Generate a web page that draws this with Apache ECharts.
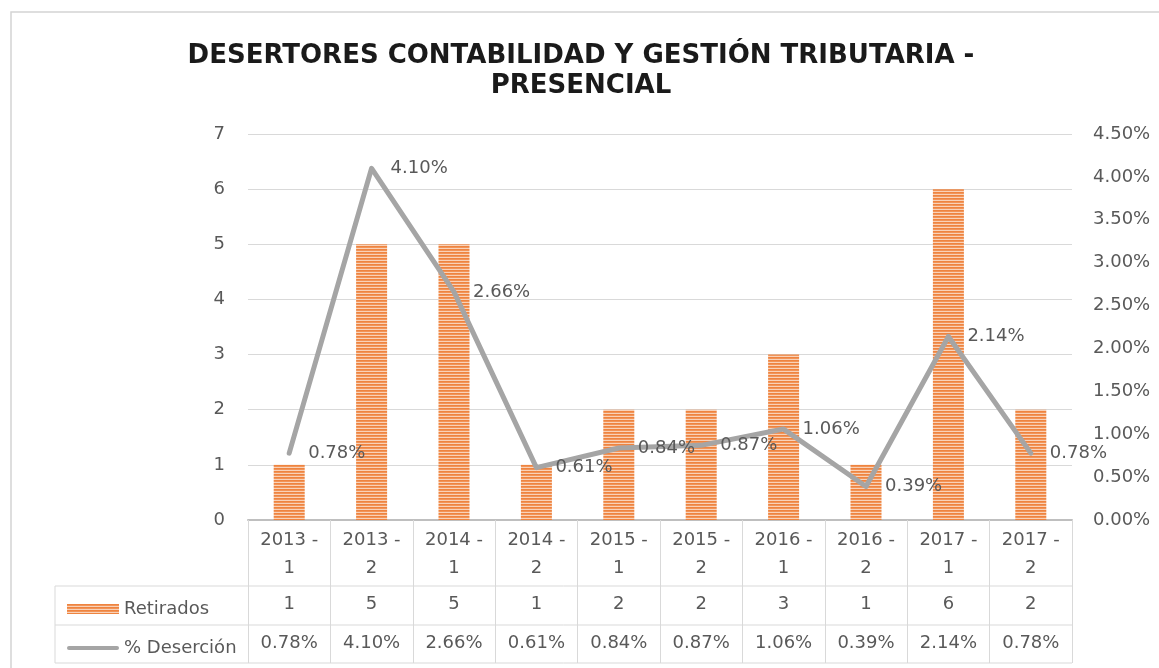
<!DOCTYPE html>
<html>
<head>
<meta charset="utf-8">
<script src="https://cdn.jsdelivr.net/npm/echarts@6/dist/echarts.min.js"></script>
<style>
  html, body { margin: 0; padding: 0; background: #fff; }
  #chart { width: 1159px; height: 668px; }
</style>
</head>
<body>
<div id="chart"></div>
<script>
// datos
const categorias = ["2013 - 1", "2013 - 2", "2014 - 1", "2014 - 2", "2015 - 1", "2015 - 2", "2016 - 1", "2016 - 2", "2017 - 1", "2017 - 2"];
const retirados = [1, 5, 5, 1, 2, 2, 3, 1, 6, 2];
const desercion = [0.0078, 0.041, 0.0266, 0.0061, 0.0084, 0.0087, 0.0106, 0.0039, 0.0214, 0.0078];

// layout
const GRID_LEFT = 248, GRID_RIGHT = 1072, AXIS_Y = 520;
const ROW1 = 586, ROW2 = 625, ROW3 = 663, TABLE_LEFT = 55;
const FONT = "DejaVu Sans";
const GRIS = "#595959";
const LINEA = "#D9D9D9";

const pct = v => (v * 100).toFixed(2) + "%";

// patron de rayas horizontales para las barras
function rayas() {
  const c = document.createElement("canvas");
  c.width = 4; c.height = 3;
  const ctx = c.getContext("2d");
  ctx.fillStyle = "#EE8440"; ctx.fillRect(0, 0, 4, 1);
  ctx.fillStyle = "#F29458"; ctx.fillRect(0, 1, 4, 1);
  ctx.fillStyle = "#F9D2B8"; ctx.fillRect(0, 2, 4, 1);
  return c;
}
const patron = { image: rayas(), repeat: "repeat" };

const chart = echarts.init(document.getElementById("chart"));

const filaAxis = (offset, fmt) => ({
  type: "category",
  data: categorias,
  position: "bottom",
  offset: offset,
  axisLine: { show: false },
  axisTick: { show: false },
  axisLabel: {
    interval: 0, margin: 8, fontFamily: FONT, fontSize: 18, lineHeight: 20, color: GRIS,
    formatter: (val, idx) => fmt(idx)
  }
});

const options = {
  animation: false,
  backgroundColor: "#fff",
  title: {
    text: "DESERTORES CONTABILIDAD Y GESTIÓN TRIBUTARIA -\nPRESENCIAL",
    left: 576,
    top: 36,
    textAlign: "center",
    textStyle: { fontFamily: FONT, fontWeight: "bold", fontSize: 26, lineHeight: 30, color: "#1a1a1a" }
  },
  legend: {
    orient: "vertical",
    left: 62,
    top: 594,
    itemWidth: 52,
    itemHeight: 10,
    itemGap: 19,
    selectedMode: false,
    textStyle: { fontFamily: FONT, fontSize: 18, lineHeight: 20, color: GRIS },
    data: [
      { name: "Retirados", icon: "rect" },
      { name: "% Deserción", icon: "path://M2,0 L50,0 A2,2 0 0 1 50,4 L2,4 A2,2 0 0 1 2,0 Z" }
    ]
  },
  grid: { left: GRID_LEFT, right: 1159 - GRID_RIGHT, top: 134, bottom: 668 - AXIS_Y },
  xAxis: [
    {
      type: "category",
      data: categorias,
      position: "bottom",
      axisLine: { show: true, lineStyle: { color: "#BFBFBF", width: 2 } },
      axisTick: { show: true, interval: 0, length: ROW3 - AXIS_Y, lineStyle: { color: LINEA, width: 1 } },
      axisLabel: {
        interval: 0, margin: 6, fontFamily: FONT, fontSize: 18, lineHeight: 28, color: GRIS,
        formatter: v => v.replace(" - ", " -\n")
      }
    },
    filaAxis(ROW1 - AXIS_Y, i => String(retirados[i])),
    filaAxis(ROW2 - AXIS_Y, i => pct(desercion[i]))
  ],
  yAxis: [
    {
      type: "value", min: 0, max: 7, interval: 1,
      axisLine: { show: false }, axisTick: { show: false },
      splitLine: { show: true, lineStyle: { color: LINEA, width: 1 } },
      axisLabel: { margin: 23, fontFamily: FONT, fontSize: 18, color: GRIS }
    },
    {
      type: "value", min: 0, max: 0.045, interval: 0.005, position: "right",
      axisLine: { show: false }, axisTick: { show: false },
      splitLine: { show: false },
      axisLabel: { margin: 21, fontFamily: FONT, fontSize: 18, color: GRIS, formatter: v => pct(v) }
    }
  ],
  series: [
    {
      name: "Retirados",
      type: "bar",
      data: retirados,
      barWidth: 31,
      itemStyle: { color: patron }
    },
    {
      name: "% Deserción",
      type: "line",
      yAxisIndex: 1,
      data: desercion,
      symbol: "circle",
      symbolSize: 2,
      itemStyle: { color: "#A5A5A5" },
      lineStyle: { color: "#A5A5A5", width: 5, join: "round", cap: "round" },
      label: {
        show: true, position: "right", distance: 18,
        fontFamily: FONT, fontSize: 18, color: GRIS,
        formatter: p => pct(p.value)
      }
    }
  ],
  graphic: [
    // borde del grafico
    { type: "rect", shape: { x: 11, y: 12, width: 1300, height: 800 }, style: { fill: null, stroke: "#D4D4D4", lineWidth: 1.5 }, silent: true },
    // lineas de la tabla
    { type: "line", shape: { x1: TABLE_LEFT, y1: ROW1, x2: GRID_RIGHT, y2: ROW1 }, style: { stroke: LINEA, lineWidth: 1 } },
    { type: "line", shape: { x1: TABLE_LEFT, y1: ROW2, x2: GRID_RIGHT, y2: ROW2 }, style: { stroke: LINEA, lineWidth: 1 } },
    { type: "line", shape: { x1: TABLE_LEFT, y1: ROW3, x2: GRID_RIGHT, y2: ROW3 }, style: { stroke: LINEA, lineWidth: 1 } },
    { type: "line", shape: { x1: TABLE_LEFT, y1: ROW1, x2: TABLE_LEFT, y2: ROW3 }, style: { stroke: LINEA, lineWidth: 1 } }
  ]
};

chart.setOption(options);
</script>
</body>
</html>
